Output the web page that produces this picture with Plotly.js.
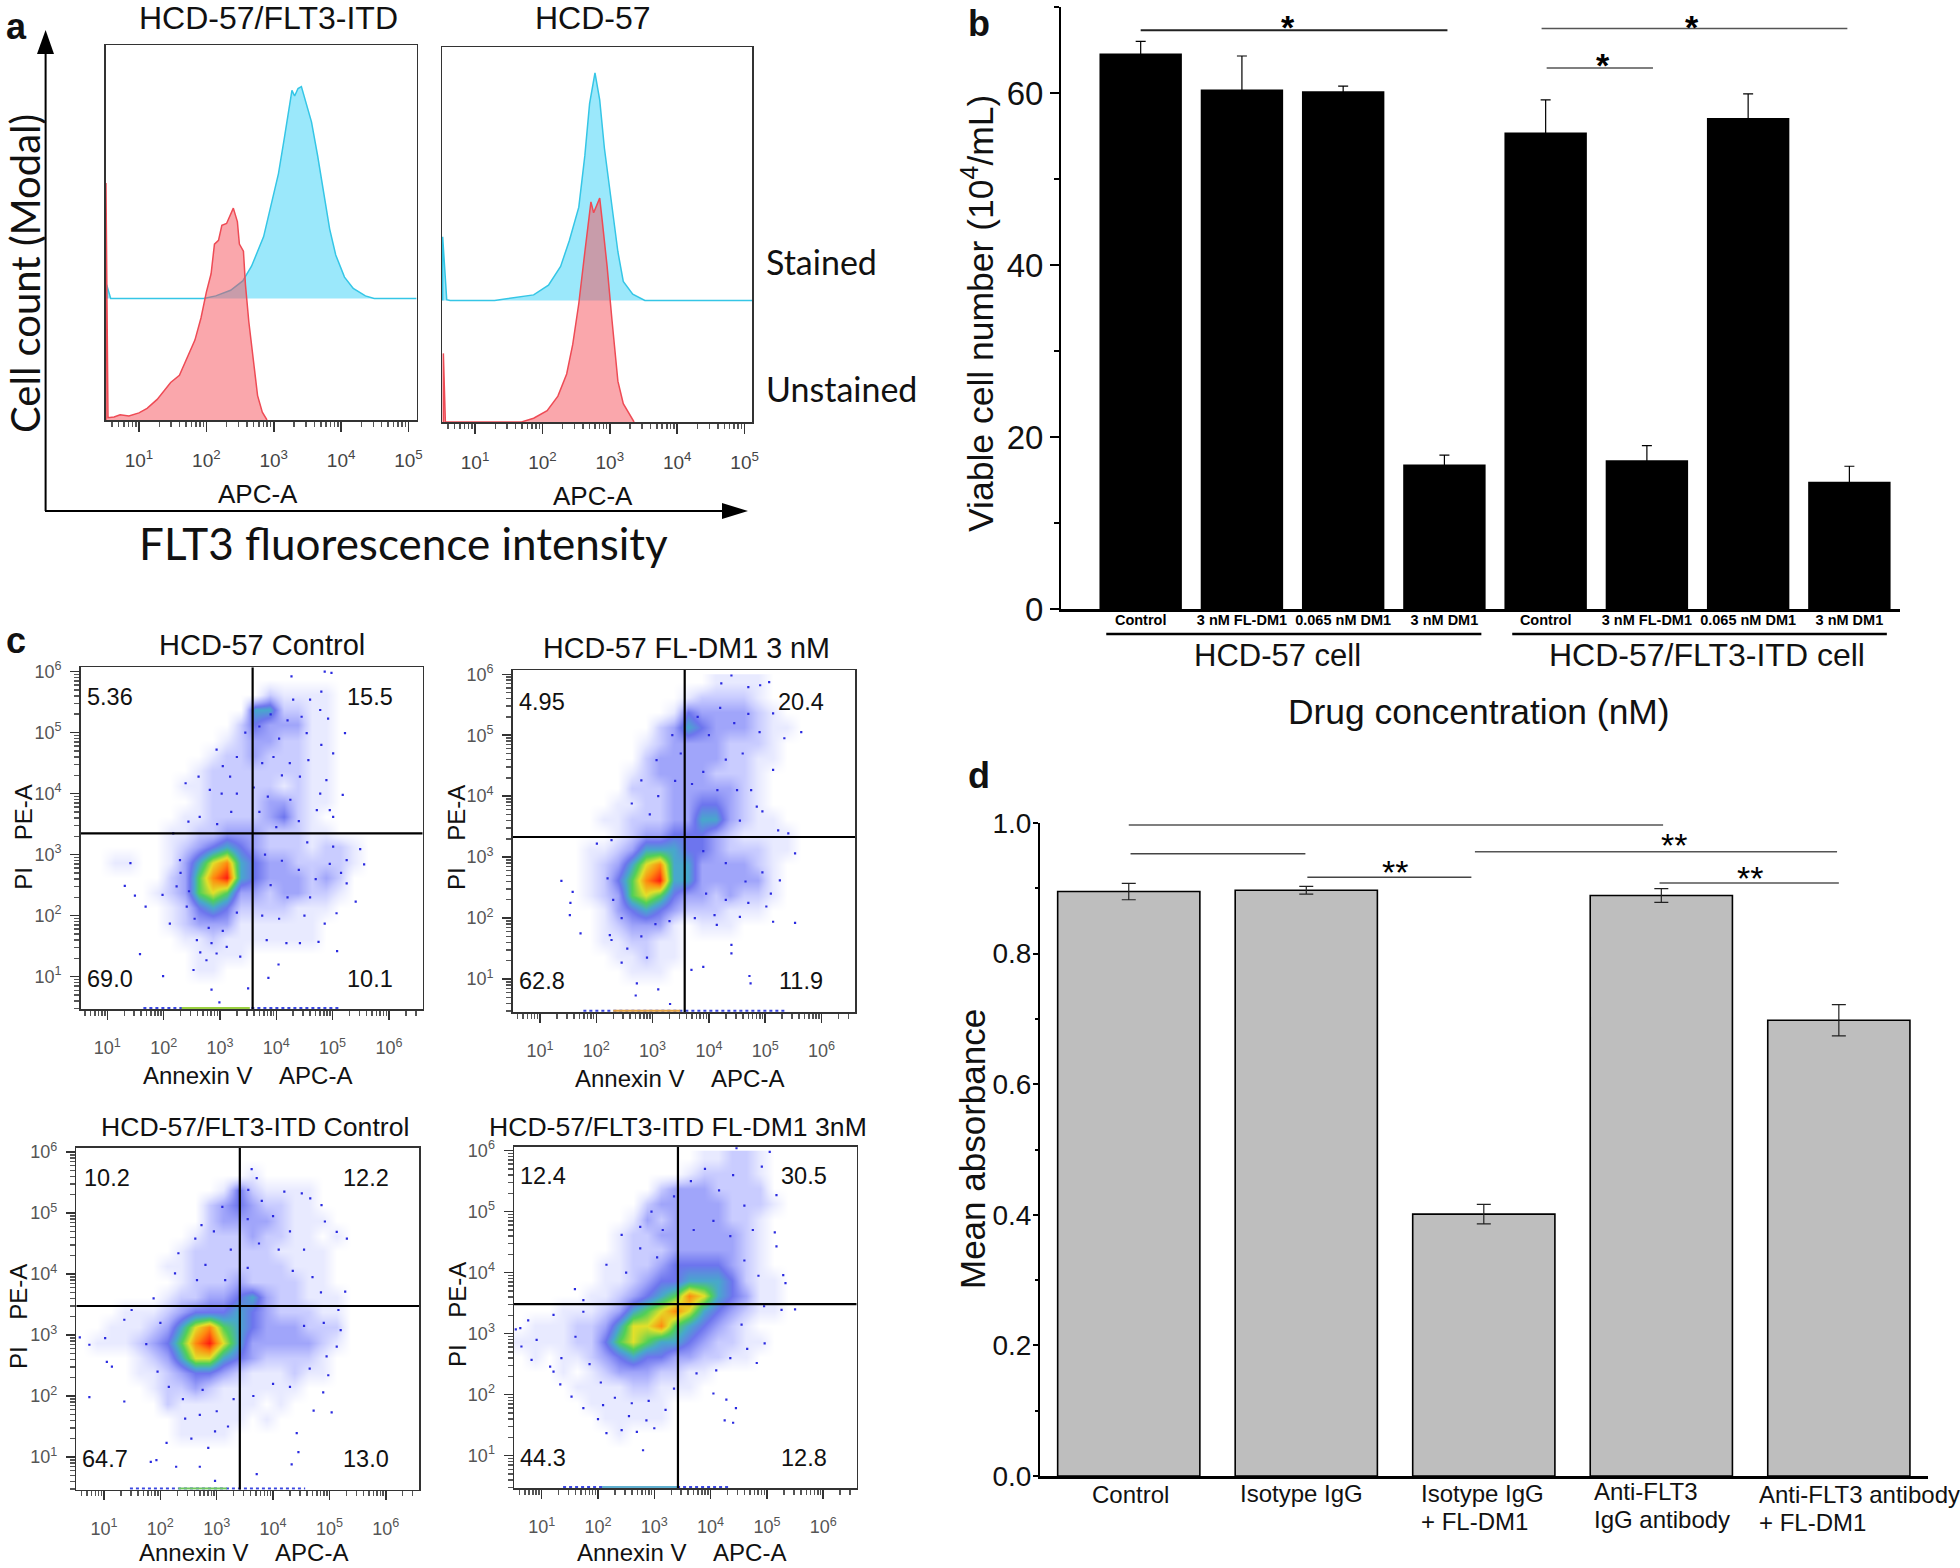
<!DOCTYPE html>
<html>
<head>
<meta charset="utf-8">
<script src="https://cdn.plot.ly/plotly-3.0.1.min.js"></script>
<style>html,body{margin:0;padding:0;background:#fff}</style>
</head>
<body>
<div id="myDiv" style="width:1960px;height:1568px"></div>
<script>
// ---- panel a: histograms, x is log10 of APC-A, y is % of modal
var aLeftBlueX = [0.52,0.52,0.58,1.96,2.14,2.36,2.54,2.67,2.85,2.98,3.07,3.16,3.22,3.27,3.31,3.36,3.41,3.47,3.56,3.65,3.74,3.83,3.92,4.05,4.18,4.36,4.49,5.12];
var aLeftBlueY = [32.4,36.1,32.4,32.4,33.1,34.6,37.1,41,48.9,58.8,65.7,75.5,82.4,87.9,86.4,88.4,88.9,84.9,79.5,70.6,60.7,50.9,44,38.1,35.1,33.1,32.4,32.4];
var aLeftRedX = [0.51,0.51,0.54,0.63,0.72,0.85,1,1.12,1.27,1.47,1.6,1.74,1.83,1.92,2,2.07,2.12,2.18,2.23,2.3,2.4,2.46,2.49,2.55,2.58,2.63,2.69,2.76,2.83,2.9];
var aLeftRedY = [0,63.2,0.6,0.8,1.4,1.1,1.9,3.1,5.5,10,11.9,17.4,21.3,27.2,34.1,39,46.9,47.9,51.9,52.4,56.5,52.9,46.9,45,36.1,26.2,17.4,6.5,2.1,0];
var aRightBlueX = [0.52,0.52,0.58,0.63,1.29,1.6,1.87,2.09,2.27,2.4,2.54,2.63,2.7,2.78,2.85,2.92,3.01,3.12,3.2,3.34,3.52,5.11];
var aRightBlueY = [32.4,49.4,32.6,32.4,32.4,33.3,33.9,36.5,41.5,48.4,57.3,71.1,84.9,93.1,85.9,73,60.2,45.4,37.5,34.1,32.4,32.4];
var aRightRedX = [0.53,0.53,0.56,1.69,1.87,2.07,2.23,2.36,2.45,2.54,2.63,2.72,2.76,2.85,2.89,2.96,3.03,3.12,3.2,3.36];
var aRightRedY = [0,18.3,0,0,1,3,6.9,12.8,20.7,31.6,45.4,58.7,55.8,59.7,53.3,41.5,27.6,10.9,4.9,0];

// ---- panel b
var bCategories = ['Control','3 nM FL-DM1','0.065 nM DM1','3 nM DM1','Control','3 nM FL-DM1','0.065 nM DM1','3 nM DM1'];
var bValues = [64.6,60.4,60.2,16.8,55.4,17.3,57.1,14.8];
var bErrors = [1.4,3.9,0.6,1.1,3.8,1.7,2.8,1.8];

// ---- panel d
var dValues = [0.895,0.897,0.401,0.889,0.698];
var dErrors = [0.0125,0.006,0.015,0.0105,0.024];
var dLabels = [['Control'],['Isotype IgG'],['Isotype IgG','+ FL-DM1'],['Anti-FLT3','IgG antibody'],['Anti-FLT3 antibody','+ FL-DM1']];

// ---- panel c: cell density read by eye, one digit per cell (0 empty, 9 red),
// rows top to bottom from 10^6, columns left to right from 10^0.5, quarter decade cells
var c1Density = ['','000000000000021111','000000000000552211','000000000002433311','000000000012332211','000000000122322211','000000001222222211','000000011222221211','000000001222233211','00000001122223421','000000112233322211','00000012345432221221','00110013578543322221','0000002368954333232','0000012367633233221','000000124542222111','00000012333111111','00000001121111111','000000001111','0000000011','',''];
var c2Density = ['000000000000001111','000000000000122221','0000000000014333321','00000000002354333211','0000000001233332221','0000000002333332211','000000001233332221','000000002223333321','000000011223344321','0000001122233553211','00000001233444321111','00000112355544322211','0000012357855333321','0000012468955333331','0000012367643323221','000000134543222111','0000001233310111','000000112211','000000011211','00000000111','',''];
var c3Density = ['','0000000000001','00000000001421111','00000000023432211','000000000233332111','0000000012223221101','000000012222221111','000000112222222111','000000012223222211','0000001223345322111','0001112344454322211','0011123578654333222','0111234689753333321','000012357754322221','000011234432111211','0000012232111111','000000211111101','00000001111101','00000001111','','',''];
var c4Density = ['000000000000011221','000000000000122221','000000000023332222','0000000002333332221','000000001323333221','000000012233333321','000000012223333321','000000112234444321','0000001123445554211','0000011234568754311','0001112356787543211','01112235778654321','111122467655432211','01011234544332211','00010123332211','0000111122111','00000111111','00000011111','00000001','','',''];

// hand read single dots, log10 units
var c1DotsX = [1.31,1.49,1.41,1.68,1.58,1.99,1.98,2.11,2.39,2.62,2.94,4.27,4.86,4.98,4.8,5.22,5.18,5.49,5.56,5.41,5.08,4.75,4.04,3.86,3.5,2.85,2.53,2.99,4.3,4.45,4.6,4.78,4.92,4.54,4.8,5.01,4.57,4.89,4.78,5.01,4.95,4.72,4.42,4.24,3.18,3.03,2.82,2.64,2.44,2.17,2.29,2.23,2.41,2.59,2.76,2.94,3.12,3.36,3.83,4.18,4.42,4.86,5.07,5.25,5.25,5.01,
  3.3,3.45,3.7,3.9,4.05,4.2,3.75,3.95,4.1,3.6,3.3,3.05,3.85,4.25,4.4,4,3.7,3.2,2.95,4.55,3.8,4.1,4.4,4.7,4.95,5.15,4.6,4.2,3.9,3.75,4.05,4.5,2.3,2.45,2.55,2.8,3.05,3.3,2.65,2.85];
var c1DotsY = [2.49,2.33,2.86,2.15,1.37,1.01,2.34,1.87,4.17,4.28,4.72,5.92,6,5.98,5.67,4.99,3.98,3.09,2.84,2.23,1.42,1.57,1.2,0.98,0.81,0.79,1.11,0.58,5.54,5.26,5.54,5.37,5.23,4.99,4.8,4.66,4.55,4.22,4,3.62,3.73,3.73,4.28,4.5,4.28,4,4.06,3.62,3.54,3.35,2.91,2.48,2.15,1.6,1.27,1.38,1.49,1.33,1.6,1.55,1.55,1.87,2.04,2.53,2.91,3.13,
  4.6,5,5.1,5.3,4.9,5.2,4.5,4.6,4.3,4.1,4,4.45,3.95,3.9,3.55,3.45,3.7,3.7,3.5,3.2,3,2.9,2.75,2.6,2.85,2.7,2.3,2.3,2.5,2,1.95,2,2.7,2.4,1.95,1.8,1.75,2.05,1.4,1.55];
var c2DotsX = [1.38,1.58,1.54,1.53,1.72,2.01,2.27,2.24,2.27,2.45,2.72,2.7,3.31,3.1,3.69,3.9,4.4,4.4,4.72,4.74,5.14,5.53,5.53,5.41,5.64,5.34,5.14,5.07,4.4,4.22,4.91,4.7,2.63,2.8,3.07,5.14,4.85,5.23,5.26,5.02,4.55,4.14,
  3.35,3.5,3.8,4,4.2,4.45,4.7,4.9,4.6,4.3,3.9,4.15,3.7,3.4,3.1,2.95,4.5,4.75,4.95,4.55,3.9,4.3,4.65,4.95,5.1,4.7,4.3,3.95,3.75,4.1,2.2,2.3,2.45,2.8,3.05,3.3,2.55,2.9];
var c2DotsY = [2.61,2.43,2.25,2.05,1.75,3.22,3.28,1.72,1.64,1.27,0.93,0.73,0.59,0.83,1.15,1.2,1.56,1.42,1.05,0.93,1.94,1.92,3.06,3.39,5.05,4.95,5.36,5.87,5.98,5.85,5.82,5.79,3.88,4.26,4.59,4.43,3.83,3.44,2.62,2.19,2.02,1.89,
  5,4.7,5.3,5,5.45,5.2,5.35,5.05,4.7,4.6,4.4,4.1,4.2,4.25,4,3.7,4.1,4.1,3.75,3.6,3.1,2.9,2.6,2.75,2.4,2.25,2.3,2.4,2,2.05,2.65,2.3,2,1.7,1.9,1.95,1.5,1.35];
var c3DotsX = [0.57,0.74,0.74,1.36,1.02,1.05,1.14,1.49,1.36,1.83,1.93,2.11,2.28,2.7,2.97,2.97,2.44,2.7,3.71,4.33,4.45,4.42,4.72,5.04,4.89,4.98,5.13,5.2,5.16,5.28,5.31,5.13,4.92,4.86,4.66,4.51,3.62,3.71,3.56,2.26,1.88,2.32,2.73,2.62,
  3.1,2.95,3.25,3.55,3.8,4,4.2,4.3,4.1,3.75,3.55,3.15,2.8,2.65,4.35,4.55,4.7,4.85,2,1.75,1.95,2.15,2.4,2.75,3,3.3,3.65,4,4.3,4.65,4.95,4.55,4.9,2.55,2.85,3.2];
var c3DotsY = [2.96,2.84,1.98,1.91,2.95,2.56,2.48,3.41,3.25,0.92,0.95,1.23,0.84,0.84,0.61,1.42,1.63,1.69,0.72,0.88,1.08,1.39,1.76,1.73,2.06,2.34,2.81,3.08,3.41,3.71,4.58,4.69,4.86,5.13,5.24,5.32,5.72,5.57,5.38,4.01,3.6,4.34,4.8,4.58,
  5.1,4.7,4.4,4.9,5.2,4.95,5.35,4.7,4.4,4.5,4.1,3.9,4.15,3.9,4.05,4.4,3.95,3.7,3.2,2.85,2.4,2.15,1.95,2.1,1.75,1.95,2,2.2,2.15,2.45,2.65,3.15,3.2,1.3,1.15,1.5];
var c4DotsX = [0.54,0.62,0.76,0.64,0.82,0.91,1.15,1.21,1.33,1.53,1.74,2.09,2.15,2.42,2.69,2.8,2.86,2.6,4.05,4.28,4.25,4.4,4.45,4.82,4.96,5.5,5.26,5.33,5.29,5.14,5.17,5.17,5.05,4.91,4.46,1.59,1.74,2.15,2.42,2.75,1.21,1.74,
  2.95,3.15,3.35,3.65,3.9,4.15,4.4,4.6,4.75,4.35,4.05,3.7,3.05,2.75,2.5,4.6,4.85,4.95,4.55,1.6,1.35,1.85,2.05,2.3,2.55,2.9,3.2,3.35,3.75,4.1,4.35,4.65,2,3];
var c4DotsY = [3.07,3.09,3.22,2.79,2.57,2.9,2.46,2.38,2.17,1.97,1.78,1.83,1.37,1.42,1.39,1.09,1.58,1.86,2.02,1.92,1.58,1.54,1.78,2.52,2.84,3.4,3.39,3.83,3.96,4.66,4.43,5.27,5.98,5.74,6.04,3.73,3.55,4.13,4.62,4.75,3.31,3.36,
  5,4.7,5.25,5.5,5.7,5.35,5.6,5.1,4.7,4.6,4.85,4.7,4.25,4.4,4,4.2,3.95,3.45,3.15,2.95,2.6,2.5,2.2,1.95,1.65,1.9,1.75,2.1,2.35,2.4,2.6,2.75,1.6,1.45];

var W = 1960, H = 1568;
var SANS = 'Liberation Sans, Arial, sans-serif';
var LATO = 'Lato, sans-serif';

var data = [], annotations = [], shapes = [];
var layout = {
  width: W, height: H, autosize: false, showlegend: false,
  margin: {l: 0, r: 0, t: 0, b: 0},
  paper_bgcolor: '#fff', plot_bgcolor: '#fff',
  hovermode: false
};

function note(text, px, py, size, opts) {
  var a = {
    text: text, xref: 'paper', yref: 'paper', x: px / W, y: 1 - py / H,
    xanchor: 'center', yanchor: 'middle', showarrow: false,
    font: {family: SANS, size: size, color: '#111'}
  };
  for (var k in (opts || {})) {
    if (k == 'family') a.font.family = opts[k];
    else if (k == 'color') a.font.color = opts[k];
    else a[k] = opts[k];
  }
  annotations.push(a);
}

function domainX(x0, x1) { return [x0 / W, x1 / W]; }
function domainY(y0, y1) { return [1 - y1 / H, 1 - y0 / H]; }
function pow10(list) { return list.map(function (v) { return Math.pow(10, v); }); }
function decadeLabels(n) {
  var out = [];
  for (var i = 1; i <= n; i++) out.push('10<sup>' + i + '</sup>');
  return out;
}
function decadeVals(n) {
  var out = [];
  for (var i = 1; i <= n; i++) out.push(Math.pow(10, i));
  return out;
}

// ---- panel a
var BLUE_FILL = 'rgb(155,232,251)', BLUE_LINE = '#35c6e6';
var RED_FILL = 'rgba(245,80,90,0.5)', RED_LINE = '#ee4b55';

function histPanel(n, box, xRange, blueX, blueY, redX, redY) {
  var xa = 'x' + n, ya = 'y' + n;
  data.push({x: pow10(blueX), y: blueY, xaxis: xa, yaxis: ya, mode: 'lines', fill: 'toself',
    fillcolor: BLUE_FILL, line: {color: BLUE_LINE, width: 1.5}});
  data.push({x: pow10(redX), y: redY, xaxis: xa, yaxis: ya, mode: 'lines', fill: 'toself',
    fillcolor: RED_FILL, line: {color: RED_LINE, width: 1.5}});
  layout['xaxis' + n] = {
    type: 'log', range: xRange, domain: domainX(box[0], box[1]), anchor: ya,
    showgrid: false, zeroline: false, showline: true, mirror: true, linecolor: '#333', linewidth: 1.5,
    tickmode: 'array', tickvals: decadeVals(5), ticktext: decadeLabels(5),
    ticks: 'outside', ticklen: 10, tickcolor: '#333', tickwidth: 1.5, ticklabelstandoff: 13,
    tickfont: {family: SANS, size: 19, color: '#444'},
    minor: {dtick: 'D1', ticks: 'outside', ticklen: 5, tickcolor: '#555', showgrid: false}
  };
  layout['yaxis' + n] = {
    range: [0, 100], domain: domainY(box[2], box[3]), anchor: xa,
    showgrid: false, zeroline: false, showline: true, mirror: true, linecolor: '#333', linewidth: 1.5,
    ticks: '', showticklabels: false
  };
}
histPanel(1, [105.5, 416.6, 45, 420], [0.503, 5.12], aLeftBlueX, aLeftBlueY, aLeftRedX, aLeftRedY);
histPanel(2, [442, 752, 47, 422], [0.51, 5.11], aRightBlueX, aRightBlueY, aRightRedX, aRightRedY);

function paperLine(x0, y0, x1, y1, width, color) {
  shapes.push({type: 'line', xref: 'paper', yref: 'paper', x0: x0 / W, x1: x1 / W, y0: 1 - y0 / H, y1: 1 - y1 / H,
    line: {color: color || '#000', width: width}});
}
function paperPath(pts) {
  var d = pts.map(function (p, i) { return (i ? 'L' : 'M') + (p[0] / W) + ',' + (1 - p[1] / H); }).join(' ') + ' Z';
  shapes.push({type: 'path', xref: 'paper', yref: 'paper', path: d, fillcolor: '#000', line: {color: '#000', width: 0}});
}
paperLine(45.6, 511, 45.6, 52, 2);
paperLine(45, 511, 724, 511, 2);
paperPath([[45.6, 30], [37, 54], [54, 54]]);
paperPath([[748, 511], [722, 503], [722, 519]]);

note('<b>a</b>', 16, 27, 36);
note('HCD-57/FLT3-ITD', 268, 18, 32);
note('HCD-57', 593, 18, 32);
note('APC-A', 258, 494, 26);
note('APC-A', 593, 496, 26);
note('Stained', 764, 261, 34, {family: LATO, xanchor: 'left'});
note('Unstained', 764, 388, 34, {family: LATO, xanchor: 'left'});
note('FLT3 fluorescence intensity', 403, 543, 44, {family: LATO});
note('Cell count (Modal)', 25, 274, 40, {family: LATO, textangle: -90});

// ---- panel b
var bPositions = [1, 2, 3, 4, 5, 6, 7, 8];
data.push({
  type: 'bar', x: bPositions, y: bValues, xaxis: 'x3', yaxis: 'y3', width: 0.814,
  marker: {color: '#000'},
  error_y: {type: 'data', array: bErrors, visible: true, color: '#000', thickness: 1.2, width: 5}
});
layout.xaxis3 = {
  range: [0.213, 8.5], domain: domainX(1061, 1900), anchor: 'y3',
  showgrid: false, zeroline: false, showline: true, linecolor: '#000', linewidth: 2.5,
  ticks: '', tickmode: 'array', tickvals: bPositions, ticktext: bCategories, ticklabelstandoff: -4,
  tickangle: 0, tickfont: {family: SANS, size: 14.5, color: '#000', weight: 'bold'}
};
layout.yaxis3 = {
  range: [0, 70], domain: domainY(7, 609), anchor: 'x3',
  showgrid: false, zeroline: false, showline: true, linecolor: '#000', linewidth: 2,
  tickmode: 'array', tickvals: [0, 20, 40, 60], ticks: 'outside', ticklen: 9, tickwidth: 2, tickcolor: '#000',
  tickfont: {family: SANS, size: 33, color: '#111'},
  minor: {tickmode: 'array', tickvals: [10, 30, 50, 70], ticks: 'outside', ticklen: 5, tickwidth: 1.5, tickcolor: '#000', showgrid: false}
};
function sigLine(xa, ya, x0, x1, y, width, color) {
  shapes.push({type: 'line', xref: xa, yref: ya, x0: x0, x1: x1, y0: y, y1: y, line: {color: color, width: width}});
}
function stars(xa, ya, x, y, text, size) {
  annotations.push({text: text, xref: xa, yref: ya, x: x, y: y, showarrow: false, xanchor: 'center', yanchor: 'middle',
    font: {family: SANS, size: size, color: '#000'}});
}
sigLine('x3', 'y3', 1, 4.03, 67.3, 2, '#222');
sigLine('x3', 'y3', 4.96, 7.98, 67.5, 1.5, '#555');
sigLine('x3', 'y3', 5.01, 6.06, 62.9, 1.5, '#555');
stars('x3', 'y3', 2.46, 67.7, '<b>*</b>', 34);
stars('x3', 'y3', 6.45, 67.7, '<b>*</b>', 34);
stars('x3', 'y3', 5.57, 63.2, '<b>*</b>', 34);
shapes.push({type: 'line', xref: 'x3', yref: 'paper', x0: 0.66, x1: 4.365, y0: 1 - 634 / H, y1: 1 - 634 / H, line: {color: '#000', width: 2.5}});
shapes.push({type: 'line', xref: 'x3', yref: 'paper', x0: 4.67, x1: 8.37, y0: 1 - 634 / H, y1: 1 - 634 / H, line: {color: '#000', width: 2.5}});
note('<b>b</b>', 979, 24, 36);
note('HCD-57 cell', 1277, 655, 31);
note('HCD-57/FLT3-ITD cell', 1707, 655, 32);
note('Drug concentration (nM)', 1479, 712, 35.4);
note('Viable cell number (10<sup>4</sup>/mL)', 978, 314, 35.5, {textangle: -90});

// ---- panel d
var dPositions = [1, 2, 3, 4, 5];
data.push({
  type: 'bar', x: dPositions, y: dValues, xaxis: 'x4', yaxis: 'y4', width: 0.801,
  marker: {color: '#bebebe', line: {color: '#000', width: 1.6}},
  error_y: {type: 'data', array: dErrors, visible: true, color: '#222', thickness: 1.2, width: 7}
});
layout.xaxis4 = {
  range: [0.5, 5.5], domain: domainX(1040, 1927.6), anchor: 'y4',
  showgrid: false, zeroline: false, showline: true, linecolor: '#000', linewidth: 2.5,
  ticks: '', showticklabels: false
};
layout.yaxis4 = {
  range: [0, 1], domain: domainY(823, 1476), anchor: 'x4',
  showgrid: false, zeroline: false, showline: true, linecolor: '#000', linewidth: 2,
  tickmode: 'array', tickvals: [0, 0.2, 0.4, 0.6, 0.8, 1], ticktext: ['0.0', '0.2', '0.4', '0.6', '0.8', '1.0'],
  ticks: 'outside', ticklen: 5, tickwidth: 2, tickcolor: '#000', ticklabelstandoff: -4,
  tickfont: {family: SANS, size: 28, color: '#111'},
  minor: {tickmode: 'array', tickvals: [0.1, 0.3, 0.5, 0.7, 0.9], ticks: 'outside', ticklen: 3, tickcolor: '#000', showgrid: false}
};
sigLine('x4', 'y4', 1, 4.01, 0.997, 1.5, '#555');
sigLine('x4', 'y4', 1.01, 1.995, 0.953, 1.5, '#444');
sigLine('x4', 'y4', 2.006, 2.93, 0.917, 1.5, '#444');
sigLine('x4', 'y4', 2.95, 4.99, 0.956, 1.5, '#555');
sigLine('x4', 'y4', 3.99, 5, 0.908, 1.5, '#555');
stars('x4', 'y4', 2.5, 0.925, '**', 34);
stars('x4', 'y4', 4.07, 0.966, '**', 34);
stars('x4', 'y4', 4.5, 0.916, '**', 34);
note('<b>d</b>', 979, 775, 36);
note('Mean absorbance', 972, 1149, 35, {textangle: -90});
var dLabelPos = [[1130, 1494, 'center'], [1301.6, 1493, 'center'], [1419, 1493, 'left'], [1592, 1491, 'left'], [1757, 1494, 'left']];
dLabels.forEach(function (lines, i) {
  lines.forEach(function (t, j) {
    note(t, dLabelPos[i][0], dLabelPos[i][1] + j * 28, 24, {xanchor: dLabelPos[i][2]});
  });
});

// ---- panel c
var cellX = [], cellY = [];
for (var i = 0; i < 24; i++) cellX.push(Math.pow(10, 0.625 + i * 0.25));
for (var j = 0; j < 22; j++) cellY.push(Math.pow(10, 0.625 + j * 0.25));
var flowColors = [[0, '#ffffff'], [0.111, '#e8eaff'], [0.222, '#c9ccff'], [0.333, '#a0a5fa'], [0.444, '#6d75ee'],
  [0.556, '#48a8cc'], [0.667, '#50d058'], [0.778, '#e2e02a'], [0.889, '#ff8a10'], [1, '#ff1a10']];

function densityRows(rows) {
  var z = [];
  for (var r = rows.length - 1; r >= 0; r--) {
    z.push(rows[r].padEnd(24, '0').split('').map(Number));
  }
  return z;
}

function flowPanel(p) {
  var xa = 'x' + p.n, ya = 'y' + p.n;
  data.push({type: 'heatmap', x: cellX, y: cellY, z: densityRows(p.density), xaxis: xa, yaxis: ya,
    zmin: 0, zmax: 9, zsmooth: 'best', colorscale: flowColors, showscale: false, hoverinfo: 'skip'});
  data.push({type: 'scatter', mode: 'markers', x: pow10(p.dotsX), y: pow10(p.dotsY), xaxis: xa, yaxis: ya,
    marker: {size: 2.2, color: '#2a2ae0', symbol: 'square'}, cliponaxis: true});
  // events piled on the lower edge of the plot
  var edge = Math.pow(10, p.yRange[0] + 0.02);
  data.push({type: 'scatter', mode: 'lines', x: pow10(p.edgeBlue), y: [edge, edge], xaxis: xa, yaxis: ya,
    line: {color: '#3a46e0', width: 2, dash: 'dot'}});
  data.push({type: 'scatter', mode: 'lines', x: pow10(p.edgeHot), y: [edge, edge], xaxis: xa, yaxis: ya,
    line: {color: p.edgeColor, width: 2}});
  // quadrant gates
  data.push({type: 'scatter', mode: 'lines', x: pow10([p.gateX, p.gateX]), y: pow10(p.yRange), xaxis: xa, yaxis: ya,
    line: {color: '#000', width: 2.2}});
  data.push({type: 'scatter', mode: 'lines', x: pow10(p.xRange), y: pow10([p.gateY, p.gateY]), xaxis: xa, yaxis: ya,
    line: {color: '#000', width: 2.2}});

  var axisBase = {
    type: 'log', showgrid: false, zeroline: false, showline: true, mirror: true, linecolor: '#333', linewidth: 1.5,
    tickmode: 'array', tickvals: decadeVals(6), ticktext: decadeLabels(6),
    ticks: 'outside', ticklen: 9, tickcolor: '#333', tickwidth: 1.5,
    tickfont: {family: SANS, size: 18, color: '#555'},
    minor: {dtick: 'D1', ticks: 'outside', ticklen: 5, tickcolor: '#555', showgrid: false}
  };
  layout['xaxis' + p.n] = Object.assign({}, axisBase, {range: p.xRange, domain: domainX(p.box[0], p.box[1]), anchor: ya, ticklabelstandoff: 13});
  layout['yaxis' + p.n] = Object.assign({}, axisBase, {range: p.yRange, domain: domainY(p.box[2], p.box[3]), anchor: xa, ticklabelstandoff: 5});

  p.counts.forEach(function (t, i) {
    annotations.push({text: t, xref: xa, yref: ya, x: p.countX[i], y: p.countY[i], showarrow: false,
      xanchor: 'center', yanchor: 'middle', font: {family: SANS, size: 23.5, color: '#111'}});
  });
  note(p.title, p.titlePos[0], p.titlePos[1], p.titleSize);
  note('Annexin V&nbsp;&nbsp;&nbsp;&nbsp;APC-A', p.xTitlePos[0], p.xTitlePos[1], 24);
  note('PI&nbsp;&nbsp;&nbsp;&nbsp;PE-A', p.yTitlePos[0], p.yTitlePos[1], 24, {textangle: -90});
}

note('<b>c</b>', 16, 640, 36);

flowPanel({n: 5, box: [80.7, 422.7, 667.3, 1009.3], xRange: [0.527, 6.6], yRange: [0.466, 6.07],
  density: c1Density, dotsX: c1DotsX, dotsY: c1DotsY, gateX: 3.58, gateY: 3.35,
  edgeBlue: [1.64, 5.13], edgeHot: [2.32, 3.53], edgeColor: '#9ad040',
  title: 'HCD-57 Control', titlePos: [261.7, 645], titleSize: 29,
  xTitlePos: [247, 1075], yTitlePos: [22.7, 837],
  counts: ['5.36', '15.5', '69.0', '10.1'], countX: [1.05, 5.66, 1.05, 5.66], countY: [5.58, 5.58, 0.97, 0.97]});

flowPanel({n: 6, box: [512.7, 855.3, 670, 1012], xRange: [0.515, 6.6], yRange: [0.459, 6.07],
  density: c2Density, dotsX: c2DotsX, dotsY: c2DotsY, gateX: 3.57, gateY: 3.33,
  edgeBlue: [1.77, 5.35], edgeHot: [2.3, 3.49], edgeColor: '#e2a040',
  title: 'HCD-57 FL-DM1 3 nM', titlePos: [686, 648], titleSize: 28.7,
  xTitlePos: [679, 1078], yTitlePos: [456, 838],
  counts: ['4.95', '20.4', '62.8', '11.9'], countX: [1.03, 5.64, 1.03, 5.64], countY: [5.55, 5.55, 0.97, 0.97]});

flowPanel({n: 7, box: [76.3, 419, 1147.7, 1489.7], xRange: [0.508, 6.59], yRange: [0.464, 6.07],
  density: c3Density, dotsX: c3DotsX, dotsY: c3DotsY, gateX: 3.41, gateY: 3.475,
  edgeBlue: [1.46, 4.57], edgeHot: [2.32, 3.18], edgeColor: '#70c860',
  title: 'HCD-57/FLT3-ITD Control', titlePos: [255, 1127], titleSize: 26.6,
  xTitlePos: [243, 1552], yTitlePos: [18, 1317],
  counts: ['10.2', '12.2', '64.7', '13.0'], countX: [1.05, 5.65, 1.02, 5.65], countY: [5.58, 5.58, 0.97, 0.97]});

flowPanel({n: 8, box: [514, 856.7, 1146.7, 1488.3], xRange: [0.508, 6.595], yRange: [0.466, 6.065],
  density: c4Density, dotsX: c4DotsX, dotsY: c4DotsY, gateX: 3.42, gateY: 3.486,
  edgeBlue: [1.38, 4.34], edgeHot: [2.07, 3.43], edgeColor: '#60b0d0',
  title: 'HCD-57/FLT3-ITD FL-DM1 3nM', titlePos: [678, 1127], titleSize: 26.6,
  xTitlePos: [681, 1552], yTitlePos: [457, 1315],
  counts: ['12.4', '30.5', '44.3', '12.8'], countX: [1.03, 5.65, 1.03, 5.65], countY: [5.58, 5.58, 0.97, 0.97]});

layout.annotations = annotations;
layout.shapes = shapes;

Plotly.newPlot('myDiv', data, layout, {displayModeBar: false, staticPlot: true});
</script>
</body>
</html>
